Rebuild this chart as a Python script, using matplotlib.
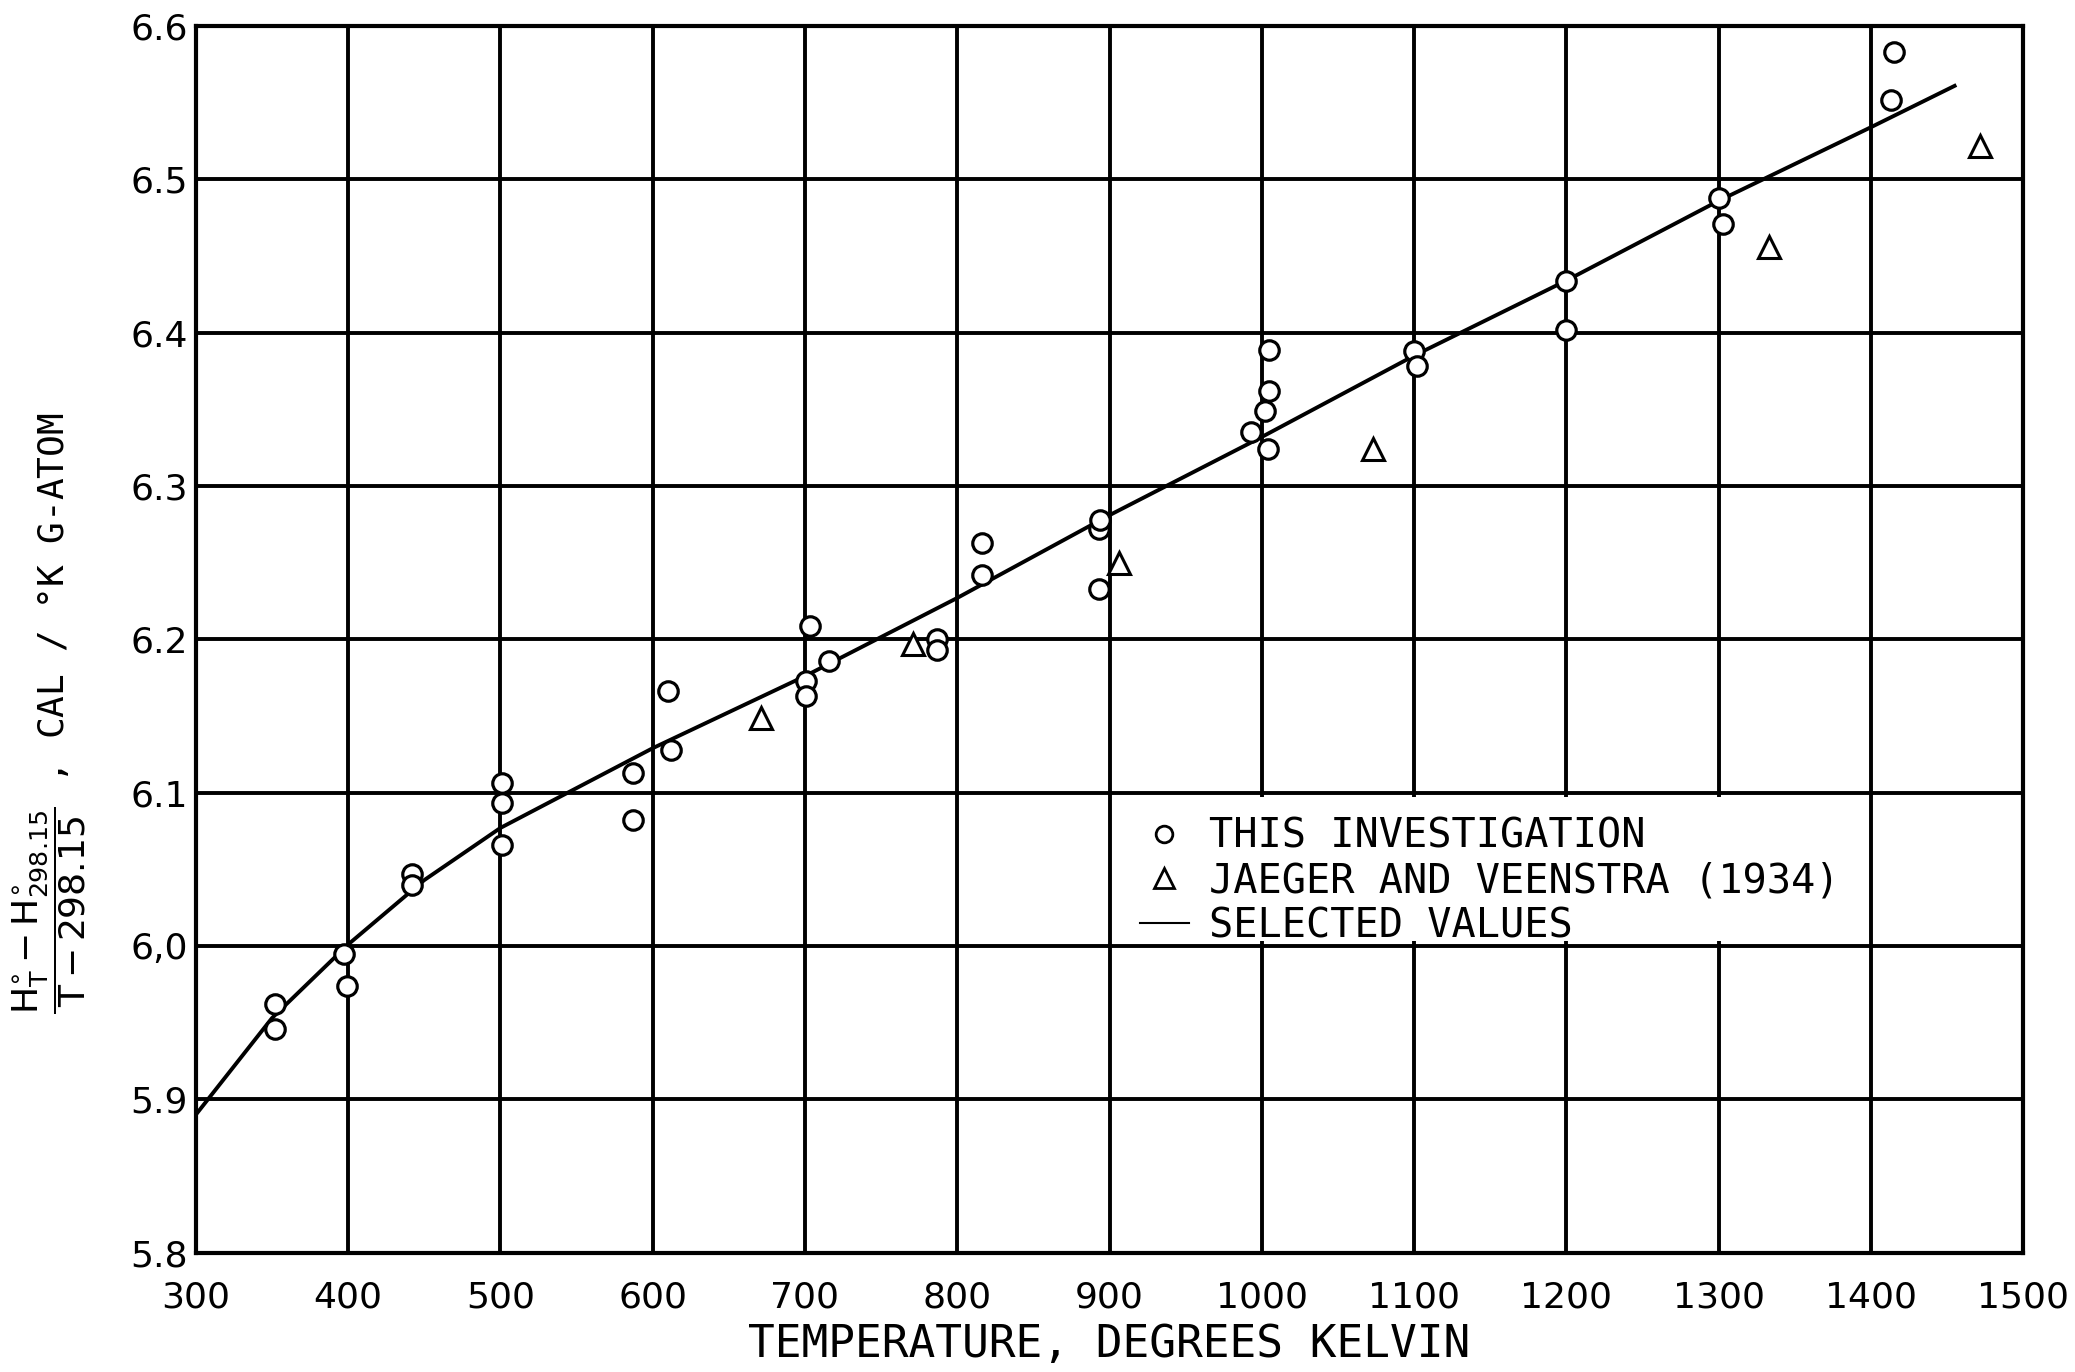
import matplotlib
matplotlib.use('Agg')
import matplotlib.pyplot as plt
from matplotlib.lines import Line2D
from matplotlib.patches import Rectangle

# data
circ_T = [352, 352, 397, 399, 442, 442, 501, 501, 501, 587, 587, 610, 612,
          701, 701, 703, 716, 787, 787, 816, 816, 893, 894, 893,
          993, 1002, 1004, 1005, 1005, 1100, 1102, 1200, 1200, 1300, 1303, 1413, 1415]
circ_v = [5.962, 5.946, 5.995, 5.974, 6.047, 6.040, 6.106, 6.093, 6.066, 6.113, 6.082, 6.166, 6.128,
          6.173, 6.163, 6.209, 6.186, 6.200, 6.193, 6.263, 6.242, 6.272, 6.278, 6.233,
          6.335, 6.349, 6.324, 6.362, 6.389, 6.388, 6.378, 6.434, 6.402, 6.488, 6.471, 6.552, 6.583]

tri_T = [671, 771, 906, 1073, 1333, 1472]
tri_v = [6.149, 6.197, 6.250, 6.324, 6.456, 6.522]

sel_T = [300, 350, 400, 450, 500, 600, 700, 800, 900, 1000, 1100, 1200, 1300, 1400, 1455]
sel_v = [5.890, 5.953, 6.001, 6.043, 6.077, 6.129, 6.176, 6.227, 6.281, 6.332, 6.385, 6.434, 6.486, 6.534, 6.561]

xticks = list(range(300, 1501, 100))
yticks = [5.8, 5.9, 6.0, 6.1, 6.2, 6.3, 6.4, 6.5, 6.6]
ytick_labels = ['5.8', '5.9', '6,0', '6.1', '6.2', '6.3', '6.4', '6.5', '6.6']

plt.rcParams['mathtext.fontset'] = 'dejavusans'
mono = 'DejaVu Sans Mono'

fig = plt.figure(figsize=(20.75, 13.72), dpi=100)
ax = fig.add_axes([0.0944, 0.087, 0.8806, 0.894])

ax.plot(sel_T, sel_v, color='black', lw=2.8, zorder=3)
ax.plot(circ_T, circ_v, 'o', ms=14, mfc='white', mec='black', mew=2.3, zorder=4)
ax.plot(tri_T, tri_v, '^', ms=16, mfc='white', mec='black', mew=2.2, zorder=4)

ax.set_xlim(300, 1500)
ax.set_ylim(5.8, 6.6)
ax.set_xticks(xticks)
ax.set_yticks(yticks)
ax.set_yticklabels(ytick_labels)
ax.grid(True, color='black', lw=2.8)
ax.tick_params(length=0, labelsize=26)
ax.tick_params(axis='x', pad=20)
ax.tick_params(axis='y', pad=6)
for s in ax.spines.values():
    s.set_linewidth(3)

# blank cell behind the legend (no inner vertical rules there)
ax.add_patch(Rectangle((903, 6.003), 494, 0.094, facecolor='white', edgecolor='none', zorder=2))

ax.set_xlabel('TEMPERATURE, DEGREES KELVIN', fontsize=32, family=mono, labelpad=6)
ax.set_ylabel(r'$\dfrac{\mathrm{H^{\circ}_{T}-H^{\circ}_{298.15}}}{\mathrm{T-298.15}}$ , CAL / °K G-ATOM',
              fontsize=26, family=mono)
ax.yaxis.set_label_coords(-0.059, 0.44)

handles = [
    Line2D([], [], ls='none', marker='o', ms=12, mfc='white', mec='black', mew=2),
    Line2D([], [], ls='none', marker='^', ms=14, mfc='white', mec='black', mew=2),
    Line2D([], [], color='black', lw=1.5),
]
labels = ['THIS INVESTIGATION', 'JAEGER AND VEENSTRA (1934)', 'SELECTED VALUES']
leg = ax.legend(handles, labels, loc='upper left', bbox_to_anchor=(0.497, 0.385),
                frameon=False, prop={'family': mono, 'size': 29}, handlelength=1.2,
                handletextpad=0.5, labelspacing=0.12, numpoints=1)
leg.set_zorder(5)

fig.savefig('out.png', dpi=100)
